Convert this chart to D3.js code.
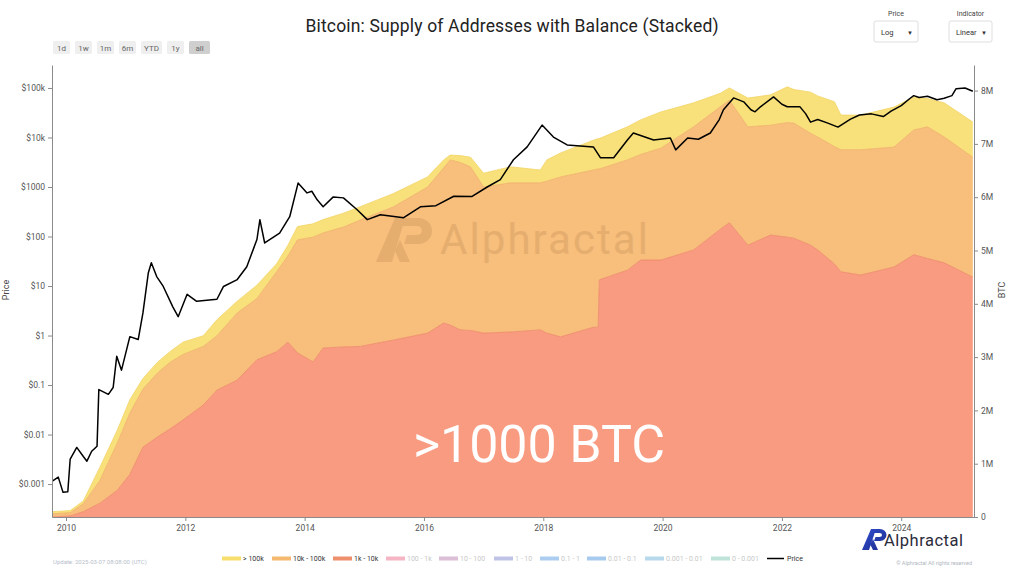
<!DOCTYPE html>
<html>
<head>
<meta charset="utf-8">
<script src="https://cdn.jsdelivr.net/npm/d3@7"></script>
<style>
  body { margin: 0; background: #fff; }
  svg { font-family: Roboto, "Noto Sans", sans-serif; }
</style>
</head>
<body>
<svg width="1024" height="576"></svg>
<script>
// supply bands (million BTC), decimal years
var supplyYears = [2009.77, 2010.07, 2010.29, 2010.57, 2010.86, 2011.07, 2011.29, 2011.53, 2011.74, 2011.96,
  2012.30, 2012.53, 2012.87, 2013.20, 2013.53, 2013.72, 2013.88, 2014.14, 2014.31, 2014.65,
  2014.93, 2015.49, 2016.06, 2016.33, 2016.44, 2016.61, 2016.78, 2017.00, 2017.45, 2017.95,
  2018.06, 2018.29, 2018.84, 2018.92, 2018.94, 2019.41, 2019.63, 2019.97, 2020.52, 2020.97,
  2021.12, 2021.43, 2021.81, 2022.09, 2022.20, 2022.48, 2022.60, 2022.88, 2022.99, 2023.32,
  2023.88, 2024.21, 2024.44, 2024.72, 2025.20];
var band1k = [0.00, 0.02, 0.10, 0.26, 0.50, 0.80, 1.31, 1.50, 1.65, 1.82,
  2.10, 2.38, 2.57, 2.95, 3.10, 3.28, 3.08, 2.91, 3.17, 3.19,
  3.20, 3.32, 3.45, 3.64, 3.60, 3.51, 3.50, 3.45, 3.47, 3.51,
  3.45, 3.38, 3.56, 3.56, 4.45, 4.63, 4.82, 4.82, 5.01, 5.40,
  5.52, 5.10, 5.29, 5.25, 5.23, 5.10, 5.01, 4.75, 4.60, 4.54,
  4.69, 4.92, 4.85, 4.77, 4.50];
var band10k = [0.06, 0.06, 0.15, 0.43, 0.89, 1.15, 1.09, 1.20, 1.25, 1.23,
  1.10, 1.02, 1.26, 1.15, 1.50, 1.62, 2.12, 2.34, 2.16, 2.25,
  2.37, 2.50, 2.74, 2.91, 3.10, 3.14, 3.07, 2.74, 2.80, 2.76,
  2.85, 3.00, 2.95, 2.97, 2.08, 2.07, 1.98, 2.10, 2.31, 2.30,
  2.30, 2.22, 2.06, 2.15, 2.16, 2.10, 2.12, 2.20, 2.29, 2.35,
  2.25, 2.34, 2.47, 2.36, 2.25];
var band100k = [0.04, 0.04, 0.05, 0.25, 0.24, 0.25, 0.20, 0.20, 0.20, 0.23,
  0.20, 0.30, 0.22, 0.25, 0.15, 0.20, 0.25, 0.25, 0.25, 0.26,
  0.25, 0.25, 0.19, 0.15, 0.09, 0.13, 0.18, 0.26, 0.30, 0.24,
  0.40, 0.45, 0.56, 0.57, 0.57, 0.62, 0.65, 0.68, 0.45, 0.25,
  0.23, 0.54, 0.57, 0.67, 0.63, 0.77, 0.77, 0.84, 0.65, 0.65,
  0.75, 0.62, 0.53, 0.64, 0.66];

// BTC price (USD)
var priceYears = [2009.77, 2009.87, 2009.95, 2010.03, 2010.07, 2010.18, 2010.29, 2010.35, 2010.43, 2010.52,
  2010.55, 2010.71, 2010.79, 2010.85, 2010.93, 2011.07, 2011.21, 2011.29, 2011.38, 2011.43,
  2011.52, 2011.63, 2011.79, 2011.88, 2012.03, 2012.19, 2012.53, 2012.64, 2012.87, 2013.03,
  2013.20, 2013.25, 2013.33, 2013.58, 2013.75, 2013.89, 2014.04, 2014.12, 2014.21, 2014.31,
  2014.48, 2014.65, 2014.88, 2015.05, 2015.27, 2015.66, 2015.94, 2016.20, 2016.50, 2016.80,
  2017.06, 2017.28, 2017.50, 2017.73, 2017.98, 2018.17, 2018.40, 2018.84, 2018.96, 2019.18,
  2019.41, 2019.51, 2019.85, 2020.13, 2020.22, 2020.42, 2020.60, 2020.80, 2020.95, 2021.02,
  2021.19, 2021.36, 2021.48, 2021.55, 2021.64, 2021.86, 2022.00, 2022.09, 2022.30, 2022.40,
  2022.48, 2022.60, 2022.77, 2022.94, 2023.15, 2023.30, 2023.50, 2023.70, 2023.83, 2024.00,
  2024.15, 2024.21, 2024.30, 2024.44, 2024.60, 2024.72, 2024.85, 2024.92, 2025.07, 2025.20];
var priceUsd = [0.00115, 0.00138, 0.00068, 0.0007, 0.0032, 0.0055, 0.0036, 0.0029, 0.0046, 0.0058,
  0.081, 0.065, 0.089, 0.38, 0.20, 0.95, 0.83, 2.9, 18.6, 29.5,
  15.5, 9.8, 3.8, 2.4, 6.8, 4.9, 5.4, 9.8, 13.5, 24.5,
  87, 219, 74, 117, 251, 1200, 760, 820, 550, 398,
  631, 603, 347, 219, 275, 240, 398, 420, 650, 640,
  1000, 1413, 3548, 6457, 17800, 10200, 7080, 6457, 3890, 3890,
  8900, 12300, 8900, 9770, 5620, 9770, 9200, 12300, 23000, 36300,
  63000, 52500, 36300, 33000, 41700, 66000, 47000, 41700, 42000, 30000,
  20400, 23000, 19500, 16200, 23500, 28500, 30000, 26500, 34000, 44000,
  62000, 70000, 64000, 68000, 58000, 62000, 70000, 97000, 100000, 86000];

var priceTicks = [0.001, 0.01, 0.1, 1, 10, 100, 1000, 10000, 100000];
var priceTickLabels = ["$0.001", "$0.01", "$0.1", "$1", "$10", "$100", "$1000", "$10k", "$100k"];
var btcTicks = [0, 1, 2, 3, 4, 5, 6, 7, 8];
var yearTicks = [2010, 2012, 2014, 2016, 2018, 2020, 2022, 2024];

var legendNames = ["> 100k", "10k - 100k", "1k - 10k", "100 - 1k", "10 - 100", "1 - 10",
  "0.1 - 1", "0.01 - 0.1", "0.001 - 0.01", "0 - 0.001", "Price"];
var legendColors = ["#f7df6e", "#f4b86f", "#ee8f6e", "#f6b5c4", "#dcbfd6", "#c1c3e6",
  "#accdf0", "#a7cbee", "#b8d8ec", "#bfe3d9", "#000"];
var rangeButtons = ["1d", "1w", "1m", "6m", "YTD", "1y", "all"];

var svg = d3.select("svg"),
    margin = {top: 65, right: 50, bottom: 59, left: 52},
    width = 1024 - margin.left - margin.right,
    height = 576 - margin.top - margin.bottom;

var x = d3.scaleLinear().domain([2009.765, 2025.22]).range([margin.left, margin.left + width]),
    yPrice = d3.scaleLog().domain([Math.pow(10, -3.665), Math.pow(10, 5.464)]).range([margin.top + height, margin.top]),
    yBtc = d3.scaleLinear().domain([0, 8.48]).range([margin.top + height, margin.top]);

// stacked areas
var rows = supplyYears.map(function(yr, i) {
  return {year: yr, k1: band1k[i], k10: band10k[i], k100: band100k[i]};
});
var stack = d3.stack().keys(["k1", "k10", "k100"]);
var layers = stack(rows);
var fills = {k1: "#f89b80", k10: "#f7be7c", k100: "#f8e07a"},
    edges = {k1: "#ee8566", k10: "#f0ad66", k100: "#f2d466"};

var area = d3.area()
    .x(function(d) { return x(d.data.year); })
    .y0(function(d) { return yBtc(d[0]); })
    .y1(function(d) { return yBtc(d[1]); });
var topLine = d3.line()
    .x(function(d) { return x(d.data.year); })
    .y(function(d) { return yBtc(d[1]); });

var plot = svg.append("g");
plot.selectAll(".band")
    .data(layers)
    .enter().append("path")
    .attr("class", "band")
    .attr("d", area)
    .attr("fill", function(d) { return fills[d.key]; });
plot.selectAll(".edge")
    .data(layers)
    .enter().append("path")
    .attr("class", "edge")
    .attr("d", topLine)
    .attr("fill", "none")
    .attr("stroke", function(d) { return edges[d.key]; })
    .attr("stroke-width", 0.8);

// watermark
var wm = svg.append("g").attr("opacity", 0.16);
wm.append("path")
    .attr("d", "M376,262 L395,218 L405,218 L392,262 Z M398,218 L418,218 A14,13 0 0 1 418,244 L404,244 L407,235 L417,235 A5,4.5 0 0 0 417,226 L400,226 Z M400,240 L410,262 L400,262 L395,251 Z")
    .attr("fill", "#8a5a2a");
wm.append("text")
    .attr("x", 440).attr("y", 254)
    .attr("font-size", 42)
    .attr("textLength", 208)
    .attr("fill", "#8a5a2a")
    .text("Alphractal");

// price line
var priceData = priceYears.map(function(yr, i) { return {year: yr, value: priceUsd[i]}; });
var line = d3.line()
    .x(function(d) { return x(d.year); })
    .y(function(d) { return yPrice(d.value); });
svg.append("path")
    .datum(priceData)
    .attr("d", line)
    .attr("fill", "none")
    .attr("stroke", "#000")
    .attr("stroke-width", 1.5)
    .attr("stroke-linejoin", "round");

// big label
svg.append("text")
    .attr("x", 539).attr("y", 462)
    .attr("text-anchor", "middle")
    .attr("font-size", 52)
    .attr("textLength", 252)
    .attr("fill", "#fff")
    .text(">1000 BTC");

// axes
function styleAxis(g) {
  g.selectAll("path, line").attr("stroke", "#8a8a8a");
  g.selectAll("text").attr("fill", "#555").attr("font-size", 8.5).attr("font-family", "Roboto, sans-serif");
}
svg.append("g")
    .attr("transform", "translate(" + margin.left + ",0)")
    .call(d3.axisLeft(yPrice).tickValues(priceTicks).tickSize(4).tickSizeOuter(0)
      .tickFormat(function(d, i) { return priceTickLabels[i]; }))
    .call(styleAxis);
svg.append("g")
    .attr("transform", "translate(" + (margin.left + width) + ",0)")
    .call(d3.axisRight(yBtc).tickValues(btcTicks).tickSize(4).tickSizeOuter(0)
      .tickFormat(function(d) { return d === 0 ? "0" : d + "M"; }))
    .call(styleAxis);
svg.append("g")
    .attr("transform", "translate(0," + (margin.top + height) + ")")
    .call(d3.axisBottom(x).tickValues(yearTicks).tickSize(4).tickSizeOuter(0).tickFormat(d3.format("d")))
    .call(styleAxis)
    .selectAll("text").attr("dy", "0.8em");

svg.append("text")
    .attr("transform", "translate(9,290) rotate(-90)")
    .attr("text-anchor", "middle").attr("font-size", 9).attr("fill", "#444")
    .text("Price");
svg.append("text")
    .attr("transform", "translate(1005,290) rotate(-90)")
    .attr("text-anchor", "middle").attr("font-size", 9).attr("fill", "#444")
    .text("BTC");

// title
svg.append("text")
    .attr("x", 512).attr("y", 32)
    .attr("text-anchor", "middle")
    .attr("font-size", 17.5)
    .attr("textLength", 413)
    .attr("fill", "#222")
    .text("Bitcoin: Supply of Addresses with Balance (Stacked)");

// range buttons
var bx = 53;
rangeButtons.forEach(function(b) {
  var w = b.length > 2 ? 21 : 17;
  svg.append("rect")
    .attr("x", bx).attr("y", 41).attr("width", w).attr("height", 13).attr("rx", 1.5)
    .attr("fill", b === "all" ? "#cfcfcf" : "#efefef");
  svg.append("text")
    .attr("x", bx + w / 2).attr("y", 50.5)
    .attr("text-anchor", "middle").attr("font-size", 8).attr("fill", "#666")
    .text(b);
  bx += w + 5;
});

// dropdowns
[{label: "Price", value: "Log", x: 874, w: 44}, {label: "Indicator", value: "Linear", x: 949, w: 43}].forEach(function(s) {
  svg.append("text")
    .attr("x", s.x + s.w / 2).attr("y", 16)
    .attr("text-anchor", "middle").attr("font-size", 7).attr("fill", "#444")
    .text(s.label);
  svg.append("rect")
    .attr("x", s.x).attr("y", 21).attr("width", s.w).attr("height", 21).attr("rx", 2)
    .attr("fill", "#fff").attr("stroke", "#dedede");
  svg.append("text")
    .attr("x", s.x + 7).attr("y", 34.5)
    .attr("font-size", 7.5).attr("fill", "#333")
    .text(s.value);
  svg.append("text")
    .attr("x", s.x + s.w - 8).attr("y", 34.5)
    .attr("text-anchor", "middle").attr("font-size", 6).attr("fill", "#333")
    .text("\u25BC");
});

// legend (item left edges follow the reference layout)
var legendX = [222, 272, 333, 386, 439, 494, 540, 587, 645, 711, 767];
legendNames.forEach(function(name, i) {
  var lx = legendX[i];
  var active = i < 3 || name === "Price";
  if (name === "Price") {
    svg.append("line")
      .attr("x1", lx).attr("x2", lx + 17).attr("y1", 558.5).attr("y2", 558.5)
      .attr("stroke", "#000").attr("stroke-width", 1.5);
  } else {
    svg.append("rect")
      .attr("x", lx).attr("y", 556.5).attr("width", 19).attr("height", 4)
      .attr("fill", legendColors[i]);
  }
  svg.append("text")
    .attr("x", lx + (name === "Price" ? 20 : 21)).attr("y", 561)
    .attr("font-size", 7)
    .attr("fill", active ? "#333" : "#c8c8c8")
    .text(name);
});

// footer
svg.append("text")
    .attr("x", 53).attr("y", 564)
    .attr("font-size", 6).attr("fill", "#b8c0cc")
    .text("Update: 2025-03-07 08:08:00 (UTC)");
svg.append("text")
    .attr("x", 972).attr("y", 565)
    .attr("text-anchor", "end")
    .attr("font-size", 5.5).attr("fill", "#b0b6c0")
    .text("\u00A9 Alphractal All rights reserved");

// logo
var grad = svg.append("defs").append("linearGradient").attr("id", "lg")
    .attr("x1", "0").attr("y1", "0").attr("x2", "1").attr("y2", "1");
grad.append("stop").attr("offset", "0").attr("stop-color", "#2f4fd0");
grad.append("stop").attr("offset", "1").attr("stop-color", "#1f2c8c");
svg.append("path")
    .attr("d", "M862,550 L871,529 L876,529 L869,550 Z M873,529 L880,529 A6.5,6 0 0 1 880,541 L874,541 L875.5,537 L879.5,537 A2.5,2 0 0 0 879.5,533 L872,533 Z M873,539 L878,550 L873,550 L870.5,545 Z")
    .attr("fill", "url(#lg)");
svg.append("text")
    .attr("x", 884).attr("y", 546)
    .attr("font-size", 16.5)
    .attr("textLength", 79)
    .attr("fill", "#2b2b3a")
    .text("Alphractal");
</script>
</body>
</html>
